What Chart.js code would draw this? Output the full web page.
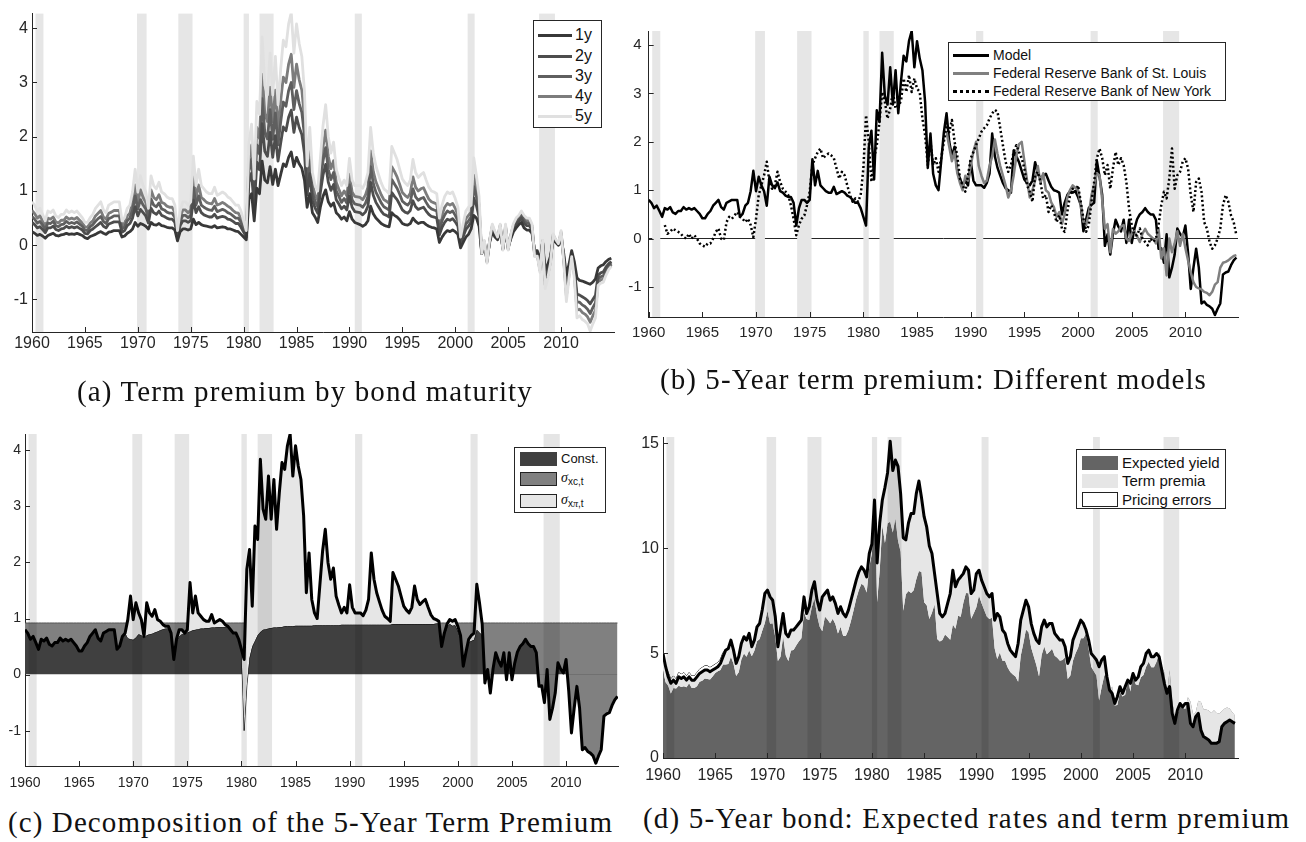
<!DOCTYPE html>
<html>
<head>
<meta charset="utf-8">
<script src="https://cdn.jsdelivr.net/npm/chart.js@4.4.1/dist/chart.umd.min.js"></script>
<style>
  body { margin: 0; width: 1306px; height: 842px; position: relative; overflow: hidden; background: #fff;
         font-family: "Liberation Sans", Arial, sans-serif; color: #262626; }
  canvas { position: absolute; }
  .cap { position: absolute; display: inline-block; white-space: nowrap; line-height: 1;
         font-family: "Liberation Serif", "DejaVu Serif", serif; font-size: 29px; color: #111; }
  .leg { position: absolute; background: #fff; border: 1px solid #262626; box-sizing: border-box; }
  .row { position: absolute; left: 0; right: 0; height: 0; }
  .row .s { position: absolute; top: 0; }
  .row .t { position: absolute; top: 0; transform: translateY(-52%); white-space: nowrap; color: #111; }
  .sw { position: absolute; box-sizing: border-box; }
</style>
</head>
<body>
<canvas id="chartA" width="625" height="372" style="left:0;top:0"></canvas>
<canvas id="chartB" width="681" height="372" style="left:625px;top:0"></canvas>
<canvas id="chartC" width="625" height="400" style="left:0;top:400px"></canvas>
<canvas id="chartD" width="681" height="400" style="left:625px;top:400px"></canvas>

<div class="leg" style="left:533px;top:20px;width:69px;height:108px;font-size:16px">
  <div class="row" style="top:14px"><span class="s" style="left:4px;width:34px;border-top:3px solid #383838;margin-top:-1px"></span><span class="t" style="left:41px">1y</span></div>
  <div class="row" style="top:35px"><span class="s" style="left:4px;width:34px;border-top:3px solid #4d4d4d;margin-top:-1px"></span><span class="t" style="left:41px">2y</span></div>
  <div class="row" style="top:55px"><span class="s" style="left:4px;width:34px;border-top:3px solid #5f5f5f;margin-top:-1px"></span><span class="t" style="left:41px">3y</span></div>
  <div class="row" style="top:75px"><span class="s" style="left:4px;width:34px;border-top:3px solid #7c7c7c;margin-top:-1px"></span><span class="t" style="left:41px">4y</span></div>
  <div class="row" style="top:95px"><span class="s" style="left:4px;width:34px;border-top:3px solid #e0e0e0;margin-top:-1px"></span><span class="t" style="left:41px">5y</span></div>
</div>

<div class="leg" style="left:948px;top:42px;width:278px;height:59px;font-size:14px">
  <div class="row" style="top:12px"><span class="s" style="left:4px;width:36px;border-top:3px solid #000;margin-top:-1px"></span><span class="t" style="left:44px">Model</span></div>
  <div class="row" style="top:30px"><span class="s" style="left:4px;width:36px;border-top:3px solid #808080;margin-top:-1px"></span><span class="t" style="left:44px">Federal Reserve Bank of St. Louis</span></div>
  <div class="row" style="top:48px"><span class="s" style="left:4px;width:36px;border-top:3px dotted #000;margin-top:-1px"></span><span class="t" style="left:44px">Federal Reserve Bank of New York</span></div>
</div>

<div class="leg" style="left:514px;top:447px;width:92px;height:66px;font-size:13px">
  <div class="sw" style="left:5px;top:4px;width:37px;height:14px;background:#404040"></div>
  <div class="row" style="top:11px"><span class="t" style="left:46px">Const.</span></div>
  <div class="sw" style="left:5px;top:24px;width:37px;height:14px;background:#808080;border:1px solid #222"></div>
  <div class="row" style="top:31px"><span class="t" style="left:46px"><i style="font-family:'Liberation Serif',serif;font-size:14px">σ</i><sub style="font-size:10px">xc,t</sub></span></div>
  <div class="sw" style="left:5px;top:46px;width:37px;height:14px;background:#e6e6e6;border:1px solid #222"></div>
  <div class="row" style="top:53px"><span class="t" style="left:46px"><i style="font-family:'Liberation Serif',serif;font-size:14px">σ</i><sub style="font-size:10px">x<i style="font-family:'Liberation Serif',serif">π</i>,t</sub></span></div>
</div>

<div class="leg" style="left:1076px;top:449px;width:150px;height:60px;font-size:15px">
  <div class="sw" style="left:5px;top:6px;width:36px;height:14px;background:#646464"></div>
  <div class="row" style="top:13px"><span class="t" style="left:45px">Expected yield</span></div>
  <div class="sw" style="left:5px;top:24px;width:36px;height:14px;background:#e6e6e6"></div>
  <div class="row" style="top:31px"><span class="t" style="left:45px">Term premia</span></div>
  <div class="sw" style="left:5px;top:42px;width:36px;height:15px;background:#fff;border:1px solid #222"></div>
  <div class="row" style="top:50px"><span class="t" style="left:45px">Pricing errors</span></div>
</div>

<div class="cap" data-w="456" style="left:77px;top:377px">(a) Term premium by bond maturity</div>
<div class="cap" data-w="547" style="left:660px;top:365px">(b) 5-Year term premium: Different models</div>
<div class="cap" data-w="605" style="left:8px;top:808px">(c) Decomposition of the 5-Year Term Premium</div>
<div class="cap" data-w="647" style="left:643px;top:804px">(d) 5-Year bond: Expected rates and term premium</div>

<script>
// quarterly observations, first quarter of 1960 to last quarter of 2014
const startYear = 1960;

// NBER recessions
const recessionStart = [1960.33, 1969.92, 1973.83, 1980.0, 1981.5, 1990.5, 2001.17, 2007.92];
const recessionEnd   = [1961.08, 1970.83, 1975.17, 1980.5, 1982.83, 1991.17, 2001.83, 2009.42];

const xTicks = [1960, 1965, 1970, 1975, 1980, 1985, 1990, 1995, 2000, 2005, 2010];
const tpTicks = [-1, 0, 1, 2, 3, 4];
const yieldTicks = [0, 5, 10, 15];

// model term premia by maturity (percent)
const tp1y = [
  0.25,0.22,0.18,0.20, 0.17,0.13,0.18,0.20, 0.22,0.18,0.17,0.19, 0.20,0.22,0.20,0.21, 0.20,0.22,0.20,0.18,
  0.14,0.12,0.16,0.18, 0.20,0.23,0.25,0.22, 0.20,0.24,0.25,0.27, 0.27,0.27,0.15,0.17, 0.22,0.25,0.30,0.42,
  0.35,0.40,0.38,0.35, 0.30,0.42,0.38,0.37, 0.40,0.36,0.35,0.33, 0.32,0.32,0.28,0.08, 0.25,0.30,0.30,0.28,
  0.30,0.48,0.38,0.42, 0.38,0.36,0.35,0.34, 0.33,0.36,0.32,0.33, 0.34,0.33,0.30,0.30, 0.28,0.26,0.25,0.20,
  0.15,0.10,0.85,0.95, 0.45,1.05,0.95,1.55, 1.20,1.15,1.45,1.12, 1.40,1.10,1.30,1.50, 1.45,1.62,1.72,1.45,
  1.62,1.50,1.42,1.20, 0.70,0.95,0.60,0.52, 0.42,0.70,0.90,1.02, 0.80,0.72,0.78,0.60, 0.55,0.48,0.52,0.45,
  0.62,0.48,0.42,0.40, 0.38,0.35,0.38,0.45, 0.72,0.58,0.50,0.45, 0.40,0.37,0.35,0.34, 0.60,0.55,0.52,0.47,
  0.40,0.38,0.37,0.40, 0.50,0.44,0.40,0.42, 0.42,0.38,0.35,0.33, 0.32,0.30,0.05,0.15, 0.22,0.27,0.25,0.28,
  0.25,0.20,-0.05,0.05, 0.15,0.20,0.30,0.55, 0.50,0.35,-0.15,0.00, -0.25,0.05,0.25,0.15, 0.10,0.28,-0.05,0.25,
  -0.03,0.12,0.25,0.32, 0.38,0.42,0.32,0.28, 0.28,0.22,-0.10,-0.10, -0.30,0.05,-0.45,-0.35, -0.20,0.10,0.05,0.00,
  0.12,-0.15,-0.55,-0.35, -0.10,-0.30,-0.60,-0.65, -0.66,-0.68,-0.70,-0.72, -0.68,-0.62,-0.42,-0.38, -0.36,-0.30,-0.26,-0.24
];
const tp2y = [
  0.42,0.38,0.32,0.34, 0.29,0.23,0.32,0.32, 0.35,0.29,0.27,0.30, 0.31,0.35,0.32,0.34, 0.32,0.34,0.31,0.28,
  0.22,0.21,0.27,0.30, 0.34,0.38,0.42,0.35, 0.32,0.39,0.41,0.43, 0.43,0.43,0.24,0.27, 0.36,0.40,0.50,0.71,
  0.54,0.66,0.60,0.54, 0.41,0.68,0.60,0.57, 0.63,0.55,0.53,0.50, 0.48,0.48,0.42,0.14, 0.36,0.45,0.45,0.42,
  0.45,0.83,0.60,0.71, 0.60,0.56,0.54,0.52, 0.52,0.57,0.50,0.52, 0.53,0.52,0.48,0.47, 0.44,0.40,0.40,0.33,
  0.24,0.15,1.16,1.33, 0.68,1.53,1.39,2.24, 1.73,1.64,2.08,1.62, 2.02,1.55,1.88,2.18, 2.11,2.36,2.49,2.08,
  2.36,2.17,2.04,1.69, 0.93,1.32,0.82,0.69, 0.59,0.97,1.29,1.49, 1.16,1.01,1.12,0.84, 0.76,0.67,0.72,0.65,
  0.91,0.70,0.62,0.61, 0.60,0.56,0.61,0.72, 1.16,0.92,0.79,0.71, 0.63,0.57,0.55,0.52, 0.97,0.90,0.84,0.75,
  0.65,0.61,0.59,0.64, 0.82,0.71,0.66,0.68, 0.70,0.63,0.57,0.53, 0.52,0.50,0.19,0.33, 0.42,0.48,0.46,0.49,
  0.43,0.35,0.01,0.16, 0.29,0.35,0.43,0.87, 0.73,0.52,-0.15,0.03, -0.28,0.07,0.30,0.19, 0.12,0.32,-0.06,0.30,
  -0.05,0.15,0.31,0.39, 0.44,0.50,0.40,0.36, 0.36,0.28,-0.14,-0.14, -0.37,0.06,-0.58,-0.44, -0.25,0.14,0.07,0.01,
  0.18,-0.21,-0.74,-0.45, -0.15,-0.42,-0.90,-0.92, -0.95,-0.98,-1.02,-1.08, -1.00,-0.92,-0.55,-0.51, -0.49,-0.40,-0.34,-0.30
];
const tp3y = [
  0.53,0.48,0.41,0.44, 0.37,0.29,0.41,0.40, 0.44,0.36,0.34,0.38, 0.39,0.44,0.40,0.42, 0.40,0.43,0.39,0.35,
  0.28,0.27,0.34,0.38, 0.44,0.49,0.53,0.44, 0.40,0.49,0.51,0.54, 0.54,0.54,0.30,0.34, 0.45,0.50,0.64,0.91,
  0.67,0.84,0.74,0.67, 0.49,0.85,0.74,0.71, 0.78,0.67,0.65,0.61, 0.59,0.59,0.51,0.18, 0.44,0.55,0.55,0.51,
  0.55,1.06,0.74,0.91, 0.74,0.70,0.67,0.65, 0.64,0.72,0.62,0.64, 0.66,0.64,0.60,0.58, 0.54,0.50,0.50,0.42,
  0.30,0.19,1.37,1.59, 0.84,1.85,1.68,2.70, 2.08,1.96,2.50,1.95, 2.44,1.85,2.27,2.64, 2.56,2.85,3.00,2.50,
  2.85,2.61,2.45,2.02, 1.08,1.56,0.97,0.81, 0.71,1.15,1.55,1.80, 1.40,1.21,1.34,1.00, 0.90,0.79,0.86,0.78,
  1.11,0.84,0.76,0.75, 0.74,0.70,0.77,0.90, 1.45,1.14,0.98,0.88, 0.78,0.71,0.68,0.65, 1.21,1.13,1.05,0.94,
  0.81,0.77,0.74,0.80, 1.04,0.89,0.83,0.86, 0.88,0.79,0.71,0.67, 0.65,0.63,0.28,0.45, 0.56,0.63,0.60,0.63,
  0.55,0.45,0.05,0.23, 0.39,0.45,0.52,1.08, 0.89,0.63,-0.15,0.05, -0.30,0.08,0.33,0.21, 0.13,0.34,-0.07,0.33,
  -0.06,0.17,0.34,0.43, 0.48,0.55,0.45,0.41, 0.41,0.32,-0.16,-0.16, -0.42,0.07,-0.66,-0.50, -0.28,0.16,0.08,0.02,
  0.21,-0.24,-0.84,-0.50, -0.17,-0.48,-1.05,-1.05, -1.10,-1.13,-1.18,-1.26, -1.15,-1.06,-0.62,-0.58, -0.56,-0.45,-0.38,-0.33
];
const tp4y = [
  0.64,0.58,0.50,0.54, 0.45,0.35,0.50,0.48, 0.52,0.43,0.41,0.46, 0.46,0.52,0.48,0.50, 0.48,0.51,0.46,0.41,
  0.34,0.33,0.41,0.45, 0.54,0.59,0.64,0.52, 0.48,0.59,0.61,0.64, 0.64,0.64,0.36,0.41, 0.54,0.59,0.78,1.11,
  0.79,1.02,0.88,0.79, 0.57,1.02,0.88,0.84, 0.93,0.79,0.77,0.72, 0.70,0.70,0.60,0.21, 0.52,0.65,0.65,0.60,
  0.65,1.29,0.88,1.11, 0.88,0.84,0.79,0.77, 0.76,0.86,0.74,0.76, 0.79,0.76,0.72,0.69, 0.64,0.60,0.59,0.50,
  0.36,0.22,1.57,1.85, 1.00,2.17,1.97,3.15, 2.43,2.28,2.91,2.28, 2.86,2.14,2.66,3.10, 3.00,3.34,3.52,2.91,
  3.34,3.05,2.86,2.34, 1.23,1.80,1.12,0.93, 0.83,1.33,1.81,2.12, 1.64,1.41,1.56,1.16, 1.03,0.91,1.00,0.91,
  1.31,0.98,0.90,0.89, 0.88,0.84,0.92,1.07, 1.74,1.36,1.17,1.05, 0.93,0.84,0.81,0.77, 1.45,1.36,1.26,1.12,
  0.97,0.92,0.88,0.96, 1.26,1.07,1.00,1.04, 1.06,0.95,0.85,0.80, 0.78,0.76,0.37,0.56, 0.70,0.77,0.74,0.77,
  0.68,0.55,0.09,0.30, 0.49,0.55,0.61,1.29, 1.05,0.74,-0.15,0.07, -0.31,0.09,0.36,0.23, 0.14,0.37,-0.08,0.36,
  -0.08,0.19,0.37,0.47, 0.52,0.59,0.50,0.46, 0.46,0.36,-0.19,-0.18, -0.46,0.08,-0.73,-0.55, -0.31,0.19,0.09,0.02,
  0.24,-0.27,-0.94,-0.55, -0.19,-0.54,-1.20,-1.18, -1.24,-1.27,-1.32,-1.42, -1.30,-1.20,-0.68,-0.64, -0.62,-0.50,-0.42,-0.36
];
// 5-year term premium of the model (also "Model" in panel b and the thick line in panel c)
const tp5y = [
  0.80,0.74,0.63,0.68, 0.57,0.45,0.63,0.60, 0.65,0.54,0.51,0.57, 0.57,0.65,0.60,0.63, 0.60,0.63,0.57,0.51,
  0.42,0.42,0.51,0.57, 0.68,0.74,0.80,0.65, 0.60,0.74,0.77,0.80, 0.80,0.80,0.45,0.51, 0.68,0.74,0.98,1.40,
  0.98,1.28,1.10,0.98, 0.68,1.28,1.10,1.04, 1.16,0.98,0.95,0.89, 0.86,0.86,0.74,0.27, 0.63,0.80,0.80,0.74,
  0.80,1.64,1.10,1.40, 1.10,1.04,0.98,0.95, 0.95,1.07,0.92,0.95, 0.98,0.95,0.89,0.86, 0.80,0.74,0.74,0.63,
  0.45,0.27,1.88,2.23, 1.22,2.65,2.41,3.84, 2.95,2.77,3.54,2.77, 3.48,2.59,3.24,3.78, 3.66,4.08,4.29,3.54,
  4.08,3.72,3.48,2.83, 1.46,2.17,1.34,1.10, 1.00,1.60,2.20,2.59, 2.00,1.70,1.90,1.40, 1.24,1.10,1.20,1.10,
  1.60,1.20,1.10,1.10, 1.10,1.05,1.15,1.34, 2.17,1.70,1.46,1.30, 1.15,1.04,1.00,0.95, 1.82,1.70,1.58,1.40,
  1.22,1.15,1.10,1.20, 1.58,1.34,1.25,1.30, 1.34,1.20,1.07,1.00, 0.98,0.95,0.50,0.74, 0.90,0.98,0.95,0.98,
  0.86,0.70,0.15,0.40, 0.63,0.70,0.74,1.61, 1.28,0.90,-0.15,0.09, -0.33,0.10,0.39,0.25, 0.15,0.39,-0.09,0.39,
  -0.09,0.20,0.40,0.50, 0.55,0.63,0.55,0.50, 0.50,0.39,-0.21,-0.20, -0.50,0.09,-0.80,-0.60, -0.33,0.21,0.10,0.03,
  0.27,-0.30,-1.04,-0.60, -0.21,-0.60,-1.34,-1.30, -1.37,-1.40,-1.45,-1.58, -1.45,-1.34,-0.74,-0.70, -0.68,-0.55,-0.45,-0.39
];

// other 5-year term premium estimates
const stLouisStart = 1987.75;
const stLouis = [
  2.20,
  1.90,1.60,1.80,1.35, 1.15,1.00,1.30,1.20,
  1.50,1.80,2.00,1.50, 1.30,1.15,1.20,1.50, 1.70,2.05,1.75,1.50, 1.30,1.10,0.85,1.00, 1.30,1.70,1.95,2.00,
  1.60,1.20,0.85,1.00, 1.20,1.50,1.15,1.35, 1.00,0.95,0.75,0.65, 0.45,0.55,0.30,0.50, 0.85,1.00,1.10,1.05,
  1.00,0.70,0.35,0.28, 0.50,0.90,1.10,1.35, 1.30,0.80,0.20,0.30, -0.28,0.20,0.10,0.15, 0.25,0.28,0.00,-0.05,
  0.10,0.15,0.05,-0.07, 0.10,0.20,0.10,0.05, 0.00,-0.10,0.20,-0.41, -0.20,-0.76,0.00,-0.28, -0.10,0.15,-0.15,0.10,
  -0.20,-0.45,-0.70,-0.90, -1.00,-1.03,-1.05,-1.10, -1.12,-1.17,-1.10,-0.95, -0.90,-0.60,-0.50,-0.48, -0.45,-0.40,-0.36,-0.34
];
const newYorkStart = 1961.5;
const newYork = [
  0.28,0.10,
  0.14,0.21,0.17,0.14, 0.10,0.03,0.00,0.10, 0.00,0.07,0.00,-0.10,
  -0.14,-0.17,-0.10,-0.10, 0.00,0.14,0.21,0.00, -0.03,0.34,0.45,0.41, 0.48,0.55,0.45,0.41, 0.34,0.41,0.28,0.03,
  0.41,0.90,1.10,1.31, 1.59,1.17,1.03,1.10, 1.38,1.17,1.03,0.97, 0.90,0.69,0.41,0.07, 0.28,0.41,0.48,0.69,
  0.97,1.52,1.66,1.79, 1.86,1.66,1.72,1.76, 1.72,1.66,1.45,1.24, 1.38,1.31,1.10,0.90, 0.76,0.83,0.76,0.90,
  1.45,2.55,2.00,1.17, 1.66,1.93,2.41,3.03, 2.83,2.48,2.69,3.03, 2.69,2.76,2.83,3.31, 3.03,3.38,3.03,3.31,
  3.10,3.03,2.48,2.14, 1.52,2.00,1.52,1.66, 1.38,1.66,2.00,2.34, 2.20,2.45,2.00,1.70, 1.24,1.10,0.97,1.31,
  1.66,1.79,1.93,2.07, 2.21,2.28,2.34,2.48, 2.59,2.66,2.62,2.28, 1.93,1.59,1.38,1.52, 1.79,1.93,1.79,1.66,
  1.45,1.10,0.97,0.76, 1.31,1.38,1.17,0.83, 0.90,0.55,0.69,0.55, 0.34,0.48,0.21,0.14, 0.55,0.90,1.03,0.97,
  1.10,0.76,0.41,0.14, 0.28,0.76,1.17,1.66, 1.86,1.66,1.31,1.52, 1.03,1.45,1.79,1.52, 1.66,1.52,1.17,0.62,
  0.28,0.07,0.07,0.21, 0.00,-0.07,-0.14,0.00, -0.07,0.00,0.28,0.69, 0.97,0.83,1.24,1.86, 1.03,1.31,1.38,1.59,
  1.66,1.45,0.90,0.55, 1.17,1.24,0.97,0.34, 0.21,-0.07,-0.21,-0.14, 0.00,0.21,0.69,0.90, 0.76,0.48,0.34,0.07
];

// decomposition: constant part and the sigma_x,pi contribution (zero outside 1969-2002)
const constTerm = 0.92;
const sigmaPiStart = 1969;
const sigmaPi = [
  0.00,0.00,0.33,0.77,
  0.36,0.62,0.38,0.28, 0.03,0.58,0.38,0.31, 0.41,0.21,0.16,0.08, 0.04,0.04,0.02,0.00, 0.03,0.12,0.08,0.02,
  0.05,0.87,0.31,0.60, 0.29,0.22,0.16,0.12, 0.12,0.23,0.08,0.10, 0.13,0.10,0.04,0.02, 0.00,0.00,0.00,0.00,
  0.00,1.27,2.08,1.93, 0.72,2.05,1.71,3.08, 2.15,1.96,2.72,1.94, 2.64,1.75,2.39,2.93, 2.80,3.22,3.43,2.68,
  3.21,2.85,2.61,1.96, 0.59,1.30,0.47,0.22, 0.12,0.72,1.32,1.71, 1.12,0.82,1.02,0.52, 0.36,0.21,0.31,0.21,
  0.71,0.31,0.21,0.21, 0.21,0.16,0.26,0.45, 1.28,0.81,0.57,0.41, 0.26,0.15,0.11,0.06, 0.92,0.80,0.68,0.50,
  0.32,0.25,0.20,0.30, 0.68,0.44,0.35,0.40, 0.44,0.30,0.17,0.10, 0.07,0.04,0.00,0.03, 0.05,0.08,0.08,0.10,
  0.08,0.05,0.00,0.02, 0.05,0.10,0.12,0.81, 0.53,0.20,0.00,0.00
];

// 5-year yield (observed) and its expected-rate component
const yield5y = [
  4.98,4.35,3.87,3.56, 3.71,3.56,3.87,3.79, 3.87,3.71,3.87,3.71, 3.71,3.87,4.03,4.11, 4.19,4.19,4.11,4.19,
  4.27,4.35,4.51,4.83, 5.14,5.22,5.62,5.14, 4.51,4.83,5.46,5.78, 5.62,5.94,5.30,5.62, 6.25,6.41,7.05,7.84,
  8.00,7.68,7.52,6.73, 5.30,6.10,6.89,5.94, 5.78,6.10,6.10,6.25, 6.41,6.57,7.68,6.89, 7.21,8.00,8.40,7.52,
  7.05,7.68,7.84,8.00, 7.52,7.68,7.37,6.89, 7.21,6.89,6.73,7.05, 7.52,8.00,8.48,8.87, 9.11,8.95,8.63,9.75,
  10.20,12.30,9.30,11.20, 12.30,12.90,13.60,15.10, 13.70,14.20,13.90,12.60, 10.50,10.40,11.20,11.65, 11.65,12.60,13.20,12.40,
  11.50,11.00,10.10,9.75, 8.79,7.84,6.89,6.73, 6.89,7.37,7.84,8.95, 8.16,8.48,8.63,8.79, 9.11,8.95,7.84,8.00,
  8.79,8.95,8.48,8.16, 7.84,7.68,7.84,6.57, 6.89,6.73,6.10,5.94, 5.46,5.14,4.98,4.83, 5.46,6.57,7.05,7.52,
  7.21,6.41,5.94,5.62, 5.46,6.25,6.57,6.25, 6.41,6.41,5.94,5.78, 5.62,5.62,5.30,4.51, 4.83,5.62,5.94,6.25,
  6.57,6.41,6.10,5.62, 4.98,4.83,4.67,4.35, 4.67,4.83,3.87,3.24, 3.08,2.60,2.92,3.40, 3.08,3.40,3.71,3.56,
  4.03,3.71,3.87,4.35, 4.51,4.98,5.14,4.83, 4.83,4.98,4.83,4.19, 3.56,3.08,3.40,2.13, 1.65,2.29,2.60,2.44,
  2.60,2.60,1.65,1.49, 1.97,2.13,1.33,1.02, 0.94,0.86,0.70,0.70, 0.70,0.78,1.49,1.65, 1.73,1.81,1.73,1.65
];
const expected5y = [
  4.18,3.61,3.44,3.08, 3.34,3.31,3.44,3.39, 3.42,3.37,3.56,3.34, 3.34,3.42,3.63,3.68, 3.79,3.76,3.74,3.88,
  4.05,4.13,4.20,4.46, 4.46,4.48,4.82,4.49, 3.91,4.09,4.69,4.98, 4.82,5.14,4.85,5.11, 5.57,5.67,6.07,6.44,
  7.02,6.40,6.42,5.75, 4.62,4.82,5.79,4.90, 4.62,5.12,5.15,5.36, 5.55,5.71,6.94,6.62, 6.58,7.20,7.60,6.78,
  6.25,6.04,6.74,6.60, 6.42,6.64,6.39,5.94, 6.26,5.82,5.81,6.10, 6.54,7.05,7.59,8.01, 8.31,8.21,7.89,9.12,
  9.75,12.03,7.42,8.97, 11.08,10.25,11.19,11.26, 10.75,11.43,10.36,9.83, 7.02,7.81,7.96,7.87, 7.99,8.52,8.91,8.86,
  7.42,7.28,6.62,6.92, 7.33,5.67,5.55,5.63, 5.89,5.77,5.64,6.36, 6.16,6.78,6.73,7.39, 7.87,7.85,6.64,6.90,
  7.19,7.75,7.38,7.06, 6.74,6.63,6.69,5.23, 4.72,5.03,4.64,4.64, 4.31,4.10,3.98,3.88, 3.64,4.87,5.47,6.12,
  5.99,5.26,4.84,4.42, 3.88,4.91,5.32,4.95, 5.07,5.21,4.87,4.78, 4.64,4.67,4.80,3.77, 3.93,4.64,4.99,5.27,
  5.71,5.71,5.95,5.22, 4.35,4.13,3.93,2.74, 3.39,3.93,4.02,3.15, 3.41,2.50,2.53,3.15, 2.93,3.01,3.80,3.17,
  4.12,3.51,3.47,3.85, 3.96,4.35,4.59,4.33, 4.33,4.59,5.04,4.39, 4.06,2.99,4.20,2.73, 1.98,2.08,2.50,2.41,
  2.33,2.90,2.69,2.09, 2.18,2.73,2.67,2.32, 2.31,2.26,2.15,2.28, 2.15,2.12,2.23,2.35, 2.41,2.36,2.18,2.04
];

// ---------------------------------------------------------------
const axisColor = '#262626';
const sans = '"Liberation Sans", Arial, sans-serif';

function pts(values, start) {
  return values.map((v, i) => ({ x: start + i / 4, y: v }));
}

// level of const + sigma_xc part (panel c) and model-implied yield (panel d)
const xcLevel = tp5y.map((v, i) => {
  const k = i - (sigmaPiStart - startYear) * 4;
  return v - (k >= 0 && k < sigmaPi.length ? sigmaPi[k] : 0);
});
const fitted5y = expected5y.map((v, i) => v + tp5y[i]);

function paintBands(chart, color) {
  const { ctx, chartArea: a, scales: { x } } = chart;
  ctx.save();
  ctx.fillStyle = color;
  recessionStart.forEach((s, i) => {
    const l = x.getPixelForValue(s), r = x.getPixelForValue(recessionEnd[i]);
    ctx.fillRect(l, a.top, r - l, a.bottom - a.top);
  });
  ctx.restore();
}
const recessions = {
  id: 'recessions',
  beforeDatasetsDraw(chart, args, opts) { if (!opts.onTop) paintBands(chart, opts.color); },
  afterDatasetsDraw(chart, args, opts) { if (opts.onTop) paintBands(chart, opts.color); }
};
// MATLAB-style ticks pointing into the plot
const innerTicks = {
  id: 'innerTicks',
  afterDraw(chart) {
    const { ctx, chartArea: a, scales: { x, y } } = chart;
    ctx.save();
    ctx.strokeStyle = axisColor;
    ctx.lineWidth = 1;
    ctx.beginPath();
    x.ticks.forEach(t => {
      const p = Math.round(x.getPixelForValue(t.value)) + 0.5;
      ctx.moveTo(p, a.bottom); ctx.lineTo(p, a.bottom - 5);
    });
    y.ticks.forEach(t => {
      const p = Math.round(y.getPixelForValue(t.value)) + 0.5;
      ctx.moveTo(a.left, p); ctx.lineTo(a.left + 5, p);
    });
    ctx.stroke();
    ctx.restore();
  }
};

function scales(o) {
  return {
    x: {
      type: 'linear', min: 1960, max: o.xMax,
      grid: { display: false, drawTicks: false },
      border: { color: axisColor, width: 1 },
      afterBuildTicks: s => { s.ticks = xTicks.map(v => ({ value: v })); },
      afterFit: s => { s.height = o.xH; },
      ticks: { color: axisColor, font: { family: sans, size: o.fs }, padding: o.xPad, maxRotation: 0, autoSkip: false, callback: v => String(v) }
    },
    y: {
      min: o.yMin, max: o.yMax,
      grid: o.zeroLine
        ? { display: true, drawTicks: false, lineWidth: 1, color: c => (c.tick && c.tick.value === 0 ? axisColor : 'rgba(0,0,0,0)') }
        : { display: false, drawTicks: false },
      border: { color: axisColor, width: 1 },
      afterBuildTicks: s => { s.ticks = o.yTicks.map(v => ({ value: v })); },
      afterFit: s => { s.width = o.yW; },
      ticks: { color: axisColor, font: { family: sans, size: o.fs }, padding: o.yPad, callback: v => String(v) }
    }
  };
}

function baseOptions(o) {
  return {
    responsive: false, animation: false, events: [],
    layout: { padding: { top: o.top, right: o.right, left: 0, bottom: 0 } },
    elements: { point: { radius: 0 }, line: { tension: 0, borderJoinStyle: 'round' } },
    plugins: { legend: { display: false }, tooltip: { enabled: false },
               recessions: { onTop: o.bandsOnTop, color: o.bandsOnTop ? 'rgba(0,0,0,0.1)' : '#e6e6e6' } },
    scales: scales(o)
  };
}

function line(data, color, width, extra) {
  return Object.assign({ data, borderColor: color, borderWidth: width, fill: false, pointRadius: 0 }, extra || {});
}

// (a) term premium by bond maturity
new Chart(document.getElementById('chartA'), {
  type: 'line',
  data: { datasets: [
    line(pts(tp5y, startYear), '#e0e0e0', 2.8),
    line(pts(tp1y, startYear), '#383838', 2.8),
    line(pts(tp2y, startYear), '#4d4d4d', 2.8),
    line(pts(tp3y, startYear), '#5f5f5f', 2.8),
    line(pts(tp4y, startYear), '#7c7c7c', 2.8)
  ] },
  options: baseOptions({ top: 7, right: 11, xMax: 2015, xH: 40, yW: 32, yMin: -1.6, yMax: 4.27,
                         yTicks: tpTicks, fs: 16, xPad: 2, yPad: 4, bandsOnTop: false }),
  plugins: [recessions, innerTicks]
});

// (b) 5-year term premium, different models
new Chart(document.getElementById('chartB'), {
  type: 'line',
  data: { datasets: [
    line(pts(newYork, newYorkStart), '#000', 2.5, { borderDash: [2, 2.5] }),
    line(pts(stLouis, stLouisStart), '#808080', 2.5),
    line(pts(tp5y, startYear), '#000', 2.5)
  ] },
  options: baseOptions({ top: 31, right: 68, xMax: 2014.9, xH: 55, yW: 23, yMin: -1.62, yMax: 4.29,
                         yTicks: tpTicks, fs: 15, xPad: 7, yPad: 7, bandsOnTop: false, zeroLine: true }),
  plugins: [recessions, innerTicks]
});

// (c) decomposition of the 5-year term premium
new Chart(document.getElementById('chartC'), {
  type: 'line',
  data: { datasets: [
    line(pts(tp5y, startYear), '#000', 3, { order: 0, fill: { target: 1, above: '#e6e6e6', below: 'rgba(0,0,0,0)' } }),
    line(pts(xcLevel, startYear), '#000', 0.8, { order: 1, fill: { target: 'origin', above: '#404040', below: 'rgba(0,0,0,0)' } }),
    line(pts(tp5y.map(() => constTerm), startYear), '#555', 1, { order: 2, fill: { target: 1, above: '#808080', below: '#808080' } })
  ] },
  options: baseOptions({ top: 34, right: 7, xMax: 2014.8, xH: 34, yW: 25, yMin: -1.63, yMax: 4.29,
                         yTicks: tpTicks, fs: 14, xPad: 9, yPad: 4, bandsOnTop: true }),
  plugins: [recessions, innerTicks]
});

// (d) 5-year bond: expected rates and term premium
new Chart(document.getElementById('chartD'), {
  type: 'line',
  data: { datasets: [
    line(pts(expected5y, startYear), 'rgba(0,0,0,0)', 0, { order: 2, fill: { target: 'origin', above: '#646464', below: '#646464' } }),
    line(pts(fitted5y, startYear), '#000', 1, { order: 1, fill: { target: 0, above: '#e6e6e6', below: '#e6e6e6' } }),
    line(pts(yield5y, startYear), '#000', 3, { order: 0, fill: { target: 1, above: '#ffffff', below: '#ffffff' } })
  ] },
  options: baseOptions({ top: 37, right: 68, xMax: 2015.05, xH: 42, yW: 38, yMin: 0, yMax: 15.3,
                         yTicks: yieldTicks, fs: 16, xPad: 8, yPad: 4, bandsOnTop: true }),
  plugins: [recessions, innerTicks]
});

// stretch the captions to the widths they have in the figure
document.querySelectorAll('.cap').forEach(el => {
  const w = el.getBoundingClientRect().width;
  const n = el.textContent.length;
  el.style.letterSpacing = ((+el.dataset.w - w) / n).toFixed(2) + 'px';
});
</script>
</body>
</html>
